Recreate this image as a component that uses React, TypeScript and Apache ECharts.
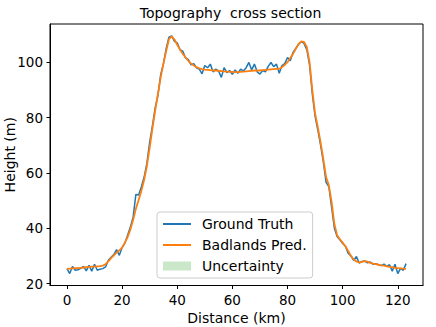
import React, { useEffect, useRef } from "react";
import * as echarts from "echarts";

const groundTruth = [
  25.4, 23.6, 26.2, 24.8, 25.0, 25.5, 26.2, 24.6, 26.6, 24.5,
  27.0, 24.8, 25.2, 25.4, 26.0, 28.4, 29.5, 30.5, 32.3, 30.2,
  33.0, 34.6, 37.5, 40.4, 44.0, 52.2, 52.0, 55.0, 58.5, 63.5,
  71.0, 77.0, 83.5, 88.0, 95.5, 99.5, 105.0, 109.0, 109.5, 107.5,
  107.0, 104.5, 104.0, 101.5, 101.0, 99.0, 99.5, 98.0, 97.5, 95.8,
  98.8, 98.0, 99.3, 96.5, 97.5, 96.8, 94.5, 98.0, 96.2, 97.0,
  95.6, 97.2, 96.0, 97.5, 96.8, 98.0, 99.9, 97.2, 99.3, 96.5,
  95.7, 97.0, 96.5, 98.5, 99.9, 98.4, 99.3, 96.0, 98.8, 99.5,
  101.7, 100.5, 103.5, 105.0, 106.5, 107.4, 106.8, 104.5, 99.0, 88.5,
  80.5, 75.5, 70.0, 64.0, 56.6, 55.0, 47.5, 40.0, 37.0, 35.8,
  34.5, 33.5, 31.0, 30.0, 28.4, 29.8, 27.4, 28.0, 28.2, 27.5,
  27.8, 27.0, 27.2, 26.8, 26.5, 27.0, 26.2, 26.8, 24.5, 27.0,
  23.6, 25.5, 24.8, 27.2,
];

const badlandsPred = [
  25.3, 25.4, 25.5, 25.6, 25.6, 25.7, 25.8, 25.9, 26.0, 26.1,
  26.1, 26.2, 26.3, 26.5, 27.0, 28.0, 29.2, 30.2, 31.2, 32.0,
  33.0, 34.8, 36.8, 39.5, 43.0, 47.0, 50.2, 53.5, 57.5, 62.5,
  69.0, 76.0, 82.5, 88.5, 94.5, 99.5, 104.0, 108.3, 109.3, 108.2,
  106.3, 104.6, 103.0, 101.8, 100.5, 99.5, 98.8, 98.2, 97.8, 97.5,
  97.3, 97.2, 97.1, 97.0, 97.0, 96.9, 96.8, 96.7, 96.6, 96.5,
  96.5, 96.4, 96.4, 96.5, 96.6, 96.7, 96.8, 96.9, 97.0, 97.0,
  97.0, 97.1, 97.2, 97.3, 97.4, 97.5, 97.6, 97.6, 98.2, 99.0,
  100.0, 101.5, 103.0, 104.8, 106.5, 107.5, 107.3, 105.5, 100.0, 90.0,
  81.5, 76.5, 71.0, 65.0, 58.5, 55.5, 49.5, 41.5, 37.5, 36.0,
  34.8, 33.5, 31.8, 30.0, 28.8, 28.0, 27.6, 27.8, 28.1, 27.9,
  27.5, 27.2, 27.0, 26.8, 26.6, 26.5, 26.2, 26.0, 25.9, 25.7,
  25.6, 25.5, 25.4, 25.3,
];

// distance along the section, 1 km spacing
const distanceKm = groundTruth.map((_, i) => i);

const xTicks = [0, 20, 40, 60, 80, 100, 120];
const yTicks = [20, 40, 60, 80, 100];

const FONT = "DejaVu Sans";
const LINE_ICON = "path://M0,0L28,0L28,2L0,2Z";

export default function App() {
  const ref = useRef<HTMLDivElement>(null);

  useEffect(() => {
    if (!ref.current) return;
    const chart = echarts.init(ref.current, null, { renderer: "svg" });
    const truthData = distanceKm.map((d, i) => [d, groundTruth[i]]);
    const predData = distanceKm.map((d, i) => [d, badlandsPred[i]]);

    chart.setOption({
      animation: false,
      backgroundColor: "#fff",
      textStyle: { fontFamily: FONT },
      grid: {
        left: 50,
        right: 13,
        top: 24,
        bottom: 41.5,
        show: false,
        containLabel: false,
        outerBoundsMode: "none",
      },
      graphic: [
        {
          type: "text",
          x: 230.5,
          y: 12.5,
          style: {
            text: "Topography  cross section",
            fontFamily: FONT,
            fontSize: 14,
            fill: "#000",
            textAlign: "center",
            textVerticalAlign: "middle",
          },
        },
        {
          type: "rect",
          shape: { x: 50, y: 24, width: 373, height: 261.5 },
          style: { fill: "none", stroke: "#000", lineWidth: 1 },
          silent: true,
          z: 10,
        },
      ],
      legend: {
        orient: "vertical",
        left: 157,
        top: 212,
        padding: [4, 6, 4, 6],
        itemGap: 5,
        itemWidth: 28,
        itemHeight: 9,
        backgroundColor: "rgba(255,255,255,0.85)",
        borderColor: "#cccccc",
        borderWidth: 1,
        borderRadius: 3,
        textStyle: {
          fontFamily: FONT,
          fontSize: 14,
          color: "#000",
          lineHeight: 16,
          padding: [0, 0, 0, 6],
        },
        data: [
          { name: "Ground Truth", icon: LINE_ICON, itemStyle: { color: "#1f77b4" } },
          { name: "Badlands Pred.", icon: LINE_ICON, itemStyle: { color: "#ff7f0e" } },
          {
            name: "Uncertainty",
            icon: "rect",
            itemStyle: { color: "rgba(44,160,44,0.25)" },
          },
        ],
      },
      xAxis: {
        type: "value",
        min: -6.15,
        max: 129.15,
        name: "Distance (km)",
        nameLocation: "middle",
        nameGap: 25,
        nameMoveOverlap: false,
        nameTextStyle: { fontFamily: FONT, fontSize: 14, color: "#000" },
        axisLine: { show: true, onZero: false, lineStyle: { color: "#000", width: 1 } },
        axisTick: {
          show: true,
          length: 3.5,
          customValues: xTicks,
          lineStyle: { color: "#000", width: 1 },
        },
        axisLabel: {
          customValues: xTicks,
          margin: 7,
          fontFamily: FONT,
          fontSize: 13.5,
          color: "#000",
        },
        splitLine: { show: false },
      },
      yAxis: {
        type: "value",
        min: 19.3,
        max: 113.8,
        name: "Height (m)",
        nameLocation: "middle",
        nameGap: 33,
        nameMoveOverlap: false,
        nameTextStyle: { fontFamily: FONT, fontSize: 14, color: "#000" },
        axisLine: { show: true, onZero: false, lineStyle: { color: "#000", width: 1 } },
        axisTick: {
          show: true,
          length: 3.5,
          customValues: yTicks,
          lineStyle: { color: "#000", width: 1 },
        },
        axisLabel: {
          customValues: yTicks,
          margin: 7,
          fontFamily: FONT,
          fontSize: 13.5,
          color: "#000",
        },
        splitLine: { show: false },
      },
      series: [
        {
          name: "Uncertainty",
          type: "line",
          data: [],
          symbol: "none",
          lineStyle: { opacity: 0 },
          itemStyle: { color: "rgba(44,160,44,0.25)" },
          areaStyle: { color: "rgba(44,160,44,0.25)" },
        },
        {
          name: "Ground Truth",
          type: "line",
          data: truthData,
          symbol: "none",
          lineStyle: { color: "#1f77b4", width: 1.5 },
          itemStyle: { color: "#1f77b4" },
          z: 2,
        },
        {
          name: "Badlands Pred.",
          type: "line",
          data: predData,
          symbol: "none",
          lineStyle: { color: "#ff7f0e", width: 1.8 },
          itemStyle: { color: "#ff7f0e" },
          z: 3,
        },
      ],
    });

    return () => chart.dispose();
  }, []);

  return (
    <div
      ref={ref}
      style={{ position: "absolute", left: 0, top: 0, width: 436, height: 327 }}
    />
  );
}
